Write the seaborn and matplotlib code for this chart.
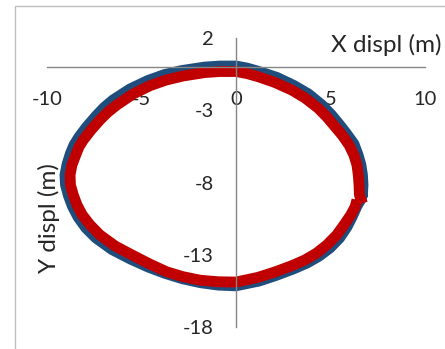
import matplotlib
matplotlib.use("Agg")
import matplotlib.pyplot as plt
import seaborn as sns
from matplotlib.patches import Rectangle

# displacement traces (m)
blue_x = [6.69, 6.72, 6.69, 6.61, 6.46, 6.24, 5.82, 5.45, 5.03, 4.55, 3.84, 3.07,
          2.17, 1.22, 0.58, 0.00, -0.85, -1.64, -2.86, -3.78, -4.66, -5.61, -6.51,
          -6.98, -7.41, -7.91, -8.31, -8.57, -8.76, -8.94, -9.05, -9.02, -8.86,
          -8.65, -8.36, -7.94, -7.41, -6.56, -5.58, -4.63, -3.73, -2.83, -1.90,
          -0.95, 0.00, 1.22, 2.12, 3.02, 3.76, 4.39, 4.97, 5.48, 5.87, 6.14, 6.40,
          6.59, 6.69]
blue_y = [-8.86, -8.17, -7.48, -6.79, -6.10, -5.33, -4.57, -3.95, -3.29, -2.64,
          -1.88, -1.29, -0.73, -0.32, -0.08, 0.06, 0.06, -0.01, -0.25, -0.53, -0.94,
          -1.53, -2.29, -2.81, -3.40, -4.16, -4.85, -5.40, -5.99, -6.75, -7.48,
          -8.17, -8.93, -9.66, -10.39, -11.15, -11.84, -12.64, -13.30, -13.86,
          -14.30, -14.66, -14.93, -15.10, -15.15, -14.82, -14.43, -13.99, -13.57,
          -13.10, -12.53, -11.84, -11.08, -10.39, -9.63, -9.21, -8.86]

red_x = [6.69, 6.53, 6.51, 6.47, 6.40, 6.24, 5.98, 5.61, 5.24, 4.81, 4.35, 3.65,
         2.95, 2.06, 1.18, 0.58, 0.00, -0.85, -1.64, -2.80, -3.70, -4.55, -5.45,
         -6.31, -6.77, -7.20, -7.67, -8.08, -8.31, -8.48, -8.68, -8.78, -8.76,
         -8.61, -8.41, -8.13, -7.72, -7.20, -6.40, -5.45, -4.55, -3.67, -2.80,
         -1.90, -0.95, 0.00, 1.18, 2.06, 2.95, 3.65, 4.27, 4.81, 5.33, 5.71, 6.07,
         6.30, 6.40]
red_y = [-9.45, -8.86, -8.17, -7.48, -6.79, -6.10, -5.40, -4.71, -4.14, -3.47,
         -2.86, -2.15, -1.60, -1.08, -0.68, -0.46, -0.32, -0.32, -0.39, -0.63,
         -0.91, -1.30, -1.88, -2.64, -3.12, -3.67, -4.37, -5.06, -5.54, -6.10,
         -6.79, -7.48, -8.17, -8.86, -9.56, -10.25, -10.94, -11.63, -12.39, -13.05,
         -13.65, -14.18, -14.52, -14.76, -14.87, -14.89, -14.56, -14.19, -13.76,
         -13.36, -12.88, -12.32, -11.63, -10.94, -10.25, -9.69, -9.21]

x_ticks = [-10, -5, 0, 5, 10]
y_ticks = [2, -3, -8, -13, -18]

sns.set_style("white")
plt.rcParams['font.family'] = ['Lato', 'DejaVu Sans']

fig = plt.figure(figsize=(4.45, 3.49), dpi=100)
ax = fig.add_axes([47 / 445, 22 / 349, 378 / 445, 289 / 349])

sns.lineplot(x=blue_x, y=blue_y, sort=False, estimator=None, color="#1F4E7D",
             linewidth=7.8, ax=ax, solid_joinstyle="round", solid_capstyle="round")
sns.lineplot(x=red_x, y=red_y, sort=False, estimator=None, color="#C00000",
             linewidth=7.8, ax=ax, solid_joinstyle="round", solid_capstyle="butt")

ax.set_xlim(-10, 10)
ax.set_ylim(-18, 2)
ax.set_xticks(x_ticks)
ax.set_yticks(y_ticks)
ax.set_xticklabels([str(v) for v in x_ticks])
ax.set_yticklabels([str(v) for v in y_ticks])

for side in ["top", "right"]:
    ax.spines[side].set_visible(False)
ax.spines["left"].set_position(("data", 0))
ax.spines["bottom"].set_position(("data", 0))
for side in ["left", "bottom"]:
    ax.spines[side].set_color("#868686")
    ax.spines[side].set_linewidth(1)
ax.tick_params(axis="x", length=0, pad=17, labelsize=14.5)
ax.tick_params(axis="y", length=0, pad=16, labelsize=14.5)
ax.patch.set_alpha(0)

fig.text(331 / 445, 1 - 45 / 349, "X displ (m)", fontsize=17.5, va="center", ha="left")
fig.text(49 / 445, 1 - 218 / 349, "Y displ (m)", fontsize=17.5, va="center",
         ha="center", rotation=90)

# chart area border
fig.patches.append(Rectangle((15 / 445, -0.1), 1.2, 1 - 6 / 349 + 0.1,
                             transform=fig.transFigure, fill=False,
                             edgecolor="#BFBFBF", linewidth=1))

fig.savefig("out.png", dpi=100)
